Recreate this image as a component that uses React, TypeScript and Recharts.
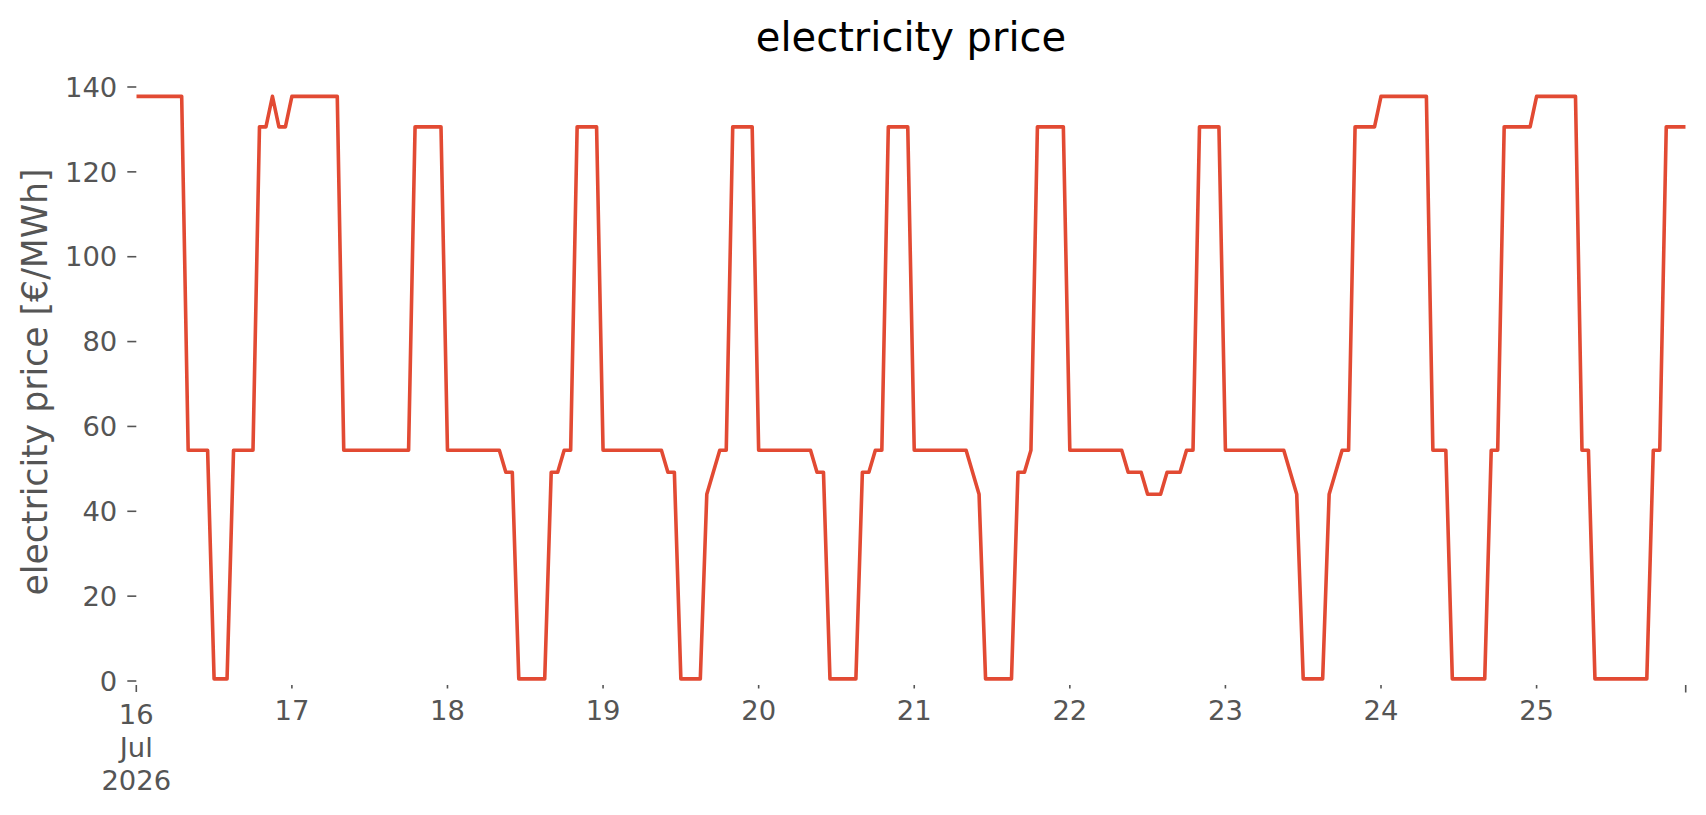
import React from 'react';
import { LineChart, Line, XAxis, YAxis, Customized } from 'recharts';

// hourly electricity price [€/MWh], one array per day (00:00 … 23:00)
const day16 = [137.8, 137.8, 137.8, 137.8, 137.8, 137.8, 137.8, 137.8, 54.4, 54.4, 54.4, 54.4, 0.5, 0.5, 0.5, 54.4, 54.4, 54.4, 54.4, 130.6, 130.6, 137.8, 130.6, 130.6];
const day17 = [137.8, 137.8, 137.8, 137.8, 137.8, 137.8, 137.8, 137.8, 54.4, 54.4, 54.4, 54.4, 54.4, 54.4, 54.4, 54.4, 54.4, 54.4, 54.4, 130.6, 130.6, 130.6, 130.6, 130.6];
const day18 = [54.4, 54.4, 54.4, 54.4, 54.4, 54.4, 54.4, 54.4, 54.4, 49.2, 49.2, 0.5, 0.5, 0.5, 0.5, 0.5, 49.2, 49.2, 54.4, 54.4, 130.6, 130.6, 130.6, 130.6];
const day19 = [54.4, 54.4, 54.4, 54.4, 54.4, 54.4, 54.4, 54.4, 54.4, 54.4, 49.2, 49.2, 0.5, 0.5, 0.5, 0.5, 44.0, 49.2, 54.4, 54.4, 130.6, 130.6, 130.6, 130.6];
const day20 = [54.4, 54.4, 54.4, 54.4, 54.4, 54.4, 54.4, 54.4, 54.4, 49.2, 49.2, 0.5, 0.5, 0.5, 0.5, 0.5, 49.2, 49.2, 54.4, 54.4, 130.6, 130.6, 130.6, 130.6];
const day21 = [54.4, 54.4, 54.4, 54.4, 54.4, 54.4, 54.4, 54.4, 54.4, 49.2, 44.0, 0.5, 0.5, 0.5, 0.5, 0.5, 49.2, 49.2, 54.4, 130.6, 130.6, 130.6, 130.6, 130.6];
const day22 = [54.4, 54.4, 54.4, 54.4, 54.4, 54.4, 54.4, 54.4, 54.4, 49.2, 49.2, 49.2, 44.0, 44.0, 44.0, 49.2, 49.2, 49.2, 54.4, 54.4, 130.6, 130.6, 130.6, 130.6];
const day23 = [54.4, 54.4, 54.4, 54.4, 54.4, 54.4, 54.4, 54.4, 54.4, 54.4, 49.2, 44.0, 0.5, 0.5, 0.5, 0.5, 44.0, 49.2, 54.4, 54.4, 130.6, 130.6, 130.6, 130.6];
const day24 = [137.8, 137.8, 137.8, 137.8, 137.8, 137.8, 137.8, 137.8, 54.4, 54.4, 54.4, 0.5, 0.5, 0.5, 0.5, 0.5, 0.5, 54.4, 54.4, 130.6, 130.6, 130.6, 130.6, 130.6];
const day25 = [137.8, 137.8, 137.8, 137.8, 137.8, 137.8, 137.8, 54.4, 54.4, 0.5, 0.5, 0.5, 0.5, 0.5, 0.5, 0.5, 0.5, 0.5, 54.4, 54.4, 130.6, 130.6, 130.6, 130.6];

const days = [day16, day17, day18, day19, day20, day21, day22, day23, day24, day25];
const dayLabels = ['16', '17', '18', '19', '20', '21', '22', '23', '24', '25'];
const firstLabelExtra = ['Jul', '2026'];
const yTicks = [0, 20, 40, 60, 80, 100, 120, 140];

const data = days.flat().map((v, i) => ({ hour: i, price: v }));
const lastHour = data.length - 1;
const xTicks = [...dayLabels.map((_, i) => i * 24), lastHour];

const FONT = 'DejaVu Sans';
const GREY = '#555555';

const XTick = (props: any) => {
  const { x, y, payload } = props;
  const v = payload.value;
  if (v === lastHour) {
    return <line x1={x} x2={x} y1={y} y2={y + 7.5} stroke={GREY} strokeWidth={1.6} />;
  }
  const idx = Math.round(v / 24);
  const major = v === 0;
  return (
    <g>
      <line x1={x} x2={x} y1={y} y2={y + (major ? 7 : 3.5)} stroke={GREY} strokeWidth={1.6} />
      <text x={x} y={y + (major ? 39 : 35)} textAnchor="middle" fill={GREY} fontSize={27.4} fontFamily={FONT}>
        {dayLabels[idx]}
      </text>
      {major &&
        firstLabelExtra.map((t, k) => (
          <text key={t} x={x} y={y + 39 + 33 * (k + 1)} textAnchor="middle" fill={GREY} fontSize={27.4} fontFamily={FONT}>
            {t}
          </text>
        ))}
    </g>
  );
};

const Titles = () => (
  <g>
    <text x={911} y={51} textAnchor="middle" fill="#000000" fontSize={40} fontFamily={FONT}>
      electricity price
    </text>
    <text
      transform="translate(46.5, 382) rotate(-90)"
      textAnchor="middle"
      fill={GREY}
      fontSize={34.7}
      fontFamily={FONT}
    >
      electricity price [€/MWh]
    </text>
  </g>
);

export default function App() {
  return (
    <div style={{ position: 'absolute', left: 0, top: 0, width: 1706, height: 815, background: '#ffffff' }}>
      <LineChart
        width={1706}
        height={815}
        data={data}
        margin={{ top: 71, right: 20.3, bottom: 30, left: 36.3 }}
      >
        <XAxis
          dataKey="hour"
          type="number"
          domain={[0, lastHour]}
          ticks={xTicks}
          interval={0}
          axisLine={false}
          tickLine={false}
          tickSize={0}
          tickMargin={0}
          height={100}
          tick={<XTick />}
          allowDataOverflow
        />
        <YAxis
          type="number"
          domain={[-0.94, 143.77]}
          ticks={yTicks}
          interval={0}
          axisLine={false}
          width={100}
          tickSize={9}
          tickMargin={10}
          tickLine={{ stroke: GREY, strokeWidth: 1.6 }}
          tick={{ fill: GREY, fontSize: 27.4, fontFamily: FONT }}
          allowDataOverflow
        />
        <Line
          type="linear"
          dataKey="price"
          stroke="#E24A33"
          strokeWidth={3.6}
          strokeLinejoin="round"
          dot={false}
          activeDot={false}
          isAnimationActive={false}
        />
        <Customized component={Titles} />
      </LineChart>
    </div>
  );
}
